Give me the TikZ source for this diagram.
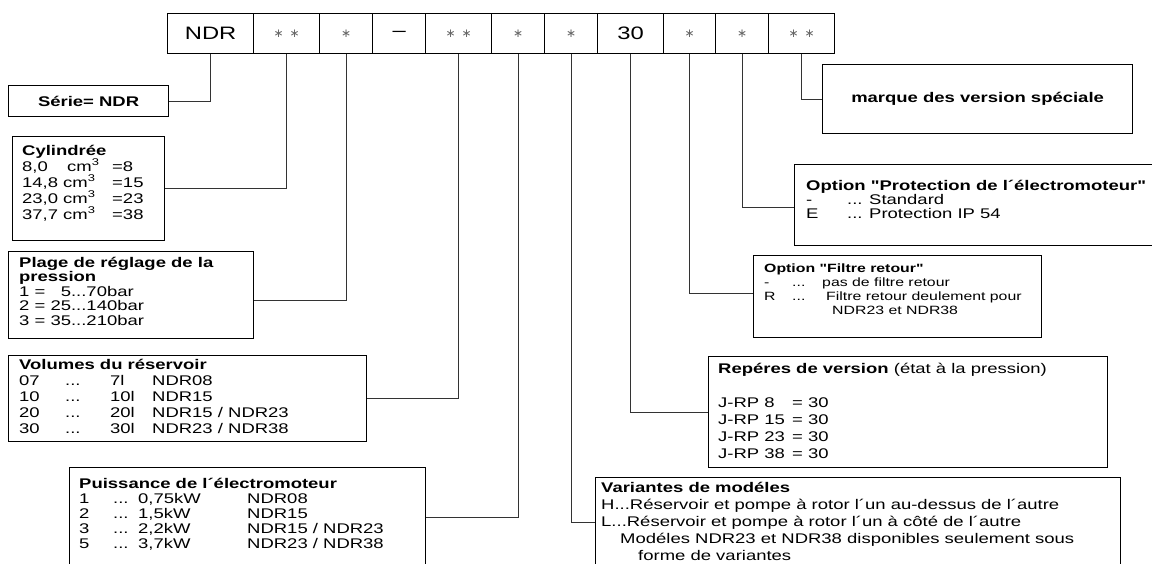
\documentclass[tikz,border=0pt]{standalone}
\usepackage{fontspec}
\setmainfont[FakeStretch=1.32, Ligatures=TeXOff]{Liberation Sans}
\newfontfamily\astfont{DejaVu Sans}
\newcommand\lst{\rule{0pt}{12pt}}
\newcommand\astr{{\astfont\fontsize{12}{12}\selectfont\textcolor{black!60}{∗}}}
\begin{document}
\begin{tikzpicture}[x=1pt,y=-1pt,
  cell/.style={draw=black, line width=1.3pt, minimum height=40pt, inner sep=0pt, anchor=north west, minimum width=#1},
  big/.style={font=\fontsize{18}{20}\selectfont},
  box/.style={draw=black, line width=1.2pt, inner sep=0pt, anchor=north west},
  conn/.style={draw=black!80, line width=0.8pt},
  txt/.style={anchor=north west, inner sep=0pt, align=left},
  fA/.style={font=\fontsize{14}{16}\selectfont},
  lbl/.style={font=\bfseries\fontsize{14}{16}\selectfont, inner sep=0pt}]
\useasboundingbox (0,0) rectangle (1152,563);
% code cells
\node[cell=86pt, big] (c1) at (167,13) {NDR};
\node[cell=66pt] (c2) at (253,13) {\astr\hspace{6pt}\astr};
\node[cell=53pt] (c3) at (319,13) {\astr};
\node[cell=53pt, big] (c4) at (372,13) {–};
\node[cell=66pt] (c5) at (425,13) {\astr\hspace{6pt}\astr};
\node[cell=53pt] (c6) at (491,13) {\astr};
\node[cell=53pt] (c7) at (544,13) {\astr};
\node[cell=66pt, big] (c8) at (597,13) {30};
\node[cell=52pt] (c9) at (663,13) {\astr};
\node[cell=53pt] (c10) at (715,13) {\astr};
\node[cell=66pt] (c11) at (768,13) {\astr\hspace{6pt}\astr};
% boxes
\node[box, minimum width=160pt, minimum height=31pt] (serie) at (8,85) {};
\node[lbl] (serielbl) at (serie.center) {Série= NDR};
\node[box, minimum width=152pt, minimum height=104pt] (cyl) at (12,136) {};
\node[txt, fA] (cylt) at (22,143) {\lst\textbf{Cylindrée}\\
\makebox[45pt][l]{8,0}\makebox[45pt][l]{cm\textsuperscript{3}}=8\\
\makebox[41pt][l]{14,8}\makebox[49pt][l]{cm\textsuperscript{3}}=15\\
\makebox[41pt][l]{23,0}\makebox[49pt][l]{cm\textsuperscript{3}}=23\\
\makebox[41pt][l]{37,7}\makebox[49pt][l]{cm\textsuperscript{3}}=38};
\node[box, minimum width=245pt, minimum height=87pt] (plage) at (8,251) {};
\node[txt, font=\fontsize{14}{14.5}\selectfont] (plaget) at (19,255) {\lst\textbf{Plage de réglage de la}\\
\textbf{pression}\\
1 = \phantom{2}5...70bar\\
2 = 25...140bar\\
3 = 35...210bar};
\node[box, minimum width=358pt, minimum height=86pt] (vol) at (8,355) {};
\node[txt, fA] (volt) at (19,357) {\lst\textbf{Volumes du réservoir}\\
\makebox[46pt][l]{07}\makebox[45pt][l]{...}\makebox[42pt][l]{7l}NDR08\\
\makebox[46pt][l]{10}\makebox[45pt][l]{...}\makebox[42pt][l]{10l}NDR15\\
\makebox[46pt][l]{20}\makebox[45pt][l]{...}\makebox[42pt][l]{20l}NDR15 / NDR23\\
\makebox[46pt][l]{30}\makebox[45pt][l]{...}\makebox[42pt][l]{30l}NDR23 / NDR38};
\node[box, minimum width=356pt, minimum height=100pt] (puis) at (69,467) {};
\node[txt, font=\fontsize{14}{15}\selectfont] (puist) at (79,476) {\lst\textbf{Puissance de l´électromoteur}\\
\makebox[34pt][l]{1}\makebox[25pt][l]{...}\makebox[109pt][l]{0,75kW}NDR08\\
\makebox[34pt][l]{2}\makebox[25pt][l]{...}\makebox[109pt][l]{1,5kW}NDR15\\
\makebox[34pt][l]{3}\makebox[25pt][l]{...}\makebox[109pt][l]{2,2kW}NDR15 / NDR23\\
\makebox[34pt][l]{5}\makebox[25pt][l]{...}\makebox[109pt][l]{3,7kW}NDR23 / NDR38};
\node[box, minimum width=525pt, minimum height=90pt] (var) at (595,477) {};
\node[txt, font=\fontsize{14}{17}\selectfont] (vart) at (601,480) {\lst\textbf{Variantes de modéles}\\
H...Réservoir et pompe à rotor l´un au-dessus de l´autre\\
L...Réservoir et pompe à rotor l´un à côté de l´autre\\
\hspace*{19pt}Modéles NDR23 et NDR38 disponibles seulement sous\\
\hspace*{37pt}forme de variantes};
\node[box, minimum width=399pt, minimum height=111pt] (rep) at (708,356) {};
\node[txt, font=\fontsize{14}{17}\selectfont] (rept) at (718,361) {\lst\textbf{Repéres de version} (état à la pression)\\
\mbox{}\\
\makebox[74pt][l]{J-RP 8}= 30\\
\makebox[74pt][l]{J-RP 15}= 30\\
\makebox[74pt][l]{J-RP 23}= 30\\
\makebox[74pt][l]{J-RP 38}= 30};
\node[box, minimum width=288pt, minimum height=82pt] (filt) at (753,255) {};
\node[txt, font=\fontsize{12}{14}\selectfont] (filtt) at (764,260) {\lst\textbf{Option "Filtre retour"}\\
\makebox[28pt][l]{-}\makebox[30pt][l]{...}pas de filtre retour\\
\makebox[28pt][l]{R}\makebox[34pt][l]{...}Filtre retour deulement pour\\
\hspace*{68pt}NDR23 et NDR38};
\node[box, minimum width=370pt, minimum height=81pt] (prot) at (794,164) {};
\node[txt, font=\fontsize{14}{14}\selectfont] (prott) at (806,178) {\lst\textbf{Option "Protection de l´électromoteur"}\\
\makebox[41pt][l]{-}\makebox[22pt][l]{...}Standard\\
\makebox[41pt][l]{E}\makebox[22pt][l]{...}Protection IP 54};
\node[box, minimum width=310pt, minimum height=69pt] (marq) at (822,64) {};
\node[lbl] (marqlbl) at (marq.center) {marque des version spéciale};
% connectors
\draw[conn] (c1.south) |- (serie.east);
\draw[conn] (c2.south) |- (cyl.east);
\draw[conn] (c3.south) |- ([yshift=-5.5pt]plage.east);
\draw[conn] (c5.south) |- (vol.east);
\draw[conn] (c6.south) |- (puis.east);
\draw[conn] (c7.south) |- (var.west);
\draw[conn] (c8.south) |- (rep.west);
\draw[conn] (c9.south) |- ([yshift=3pt]filt.west);
\draw[conn] (c10.south) |- ([yshift=-2.5pt]prot.west);
\draw[conn] (c11.south) |- (marq.west);
\end{tikzpicture}
\end{document}
